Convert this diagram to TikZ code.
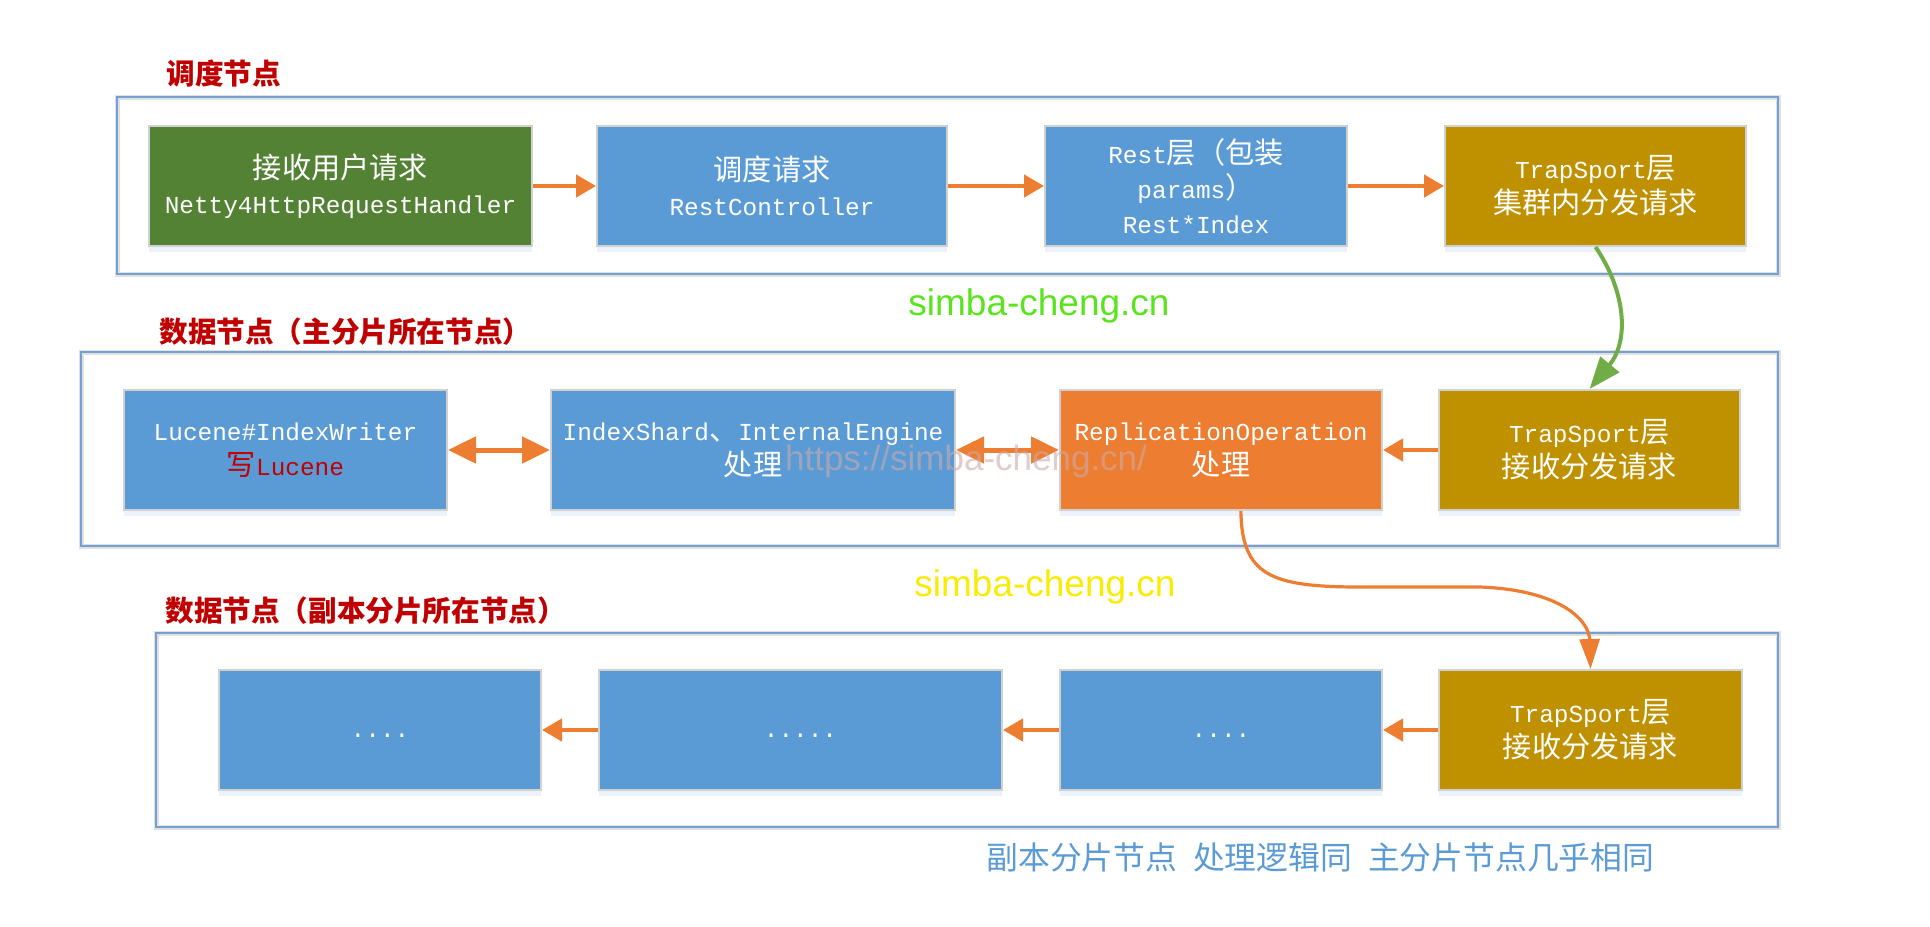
\documentclass[tikz,border=0pt]{standalone}
\usepackage{fontspec}
\setmainfont{Liberation Mono}
\newfontfamily\cjkfont{Noto Sans CJK SC}
\newfontfamily\webfont{Liberation Sans}
\usetikzlibrary{arrows.meta,shadows}

\definecolor{boxblue}{RGB}{91,155,213}
\definecolor{boxgreen}{RGB}{84,130,53}
\definecolor{boxgold}{RGB}{191,144,0}
\definecolor{boxorange}{RGB}{237,125,49}
\definecolor{titlered}{RGB}{192,0,0}
\definecolor{frameblue}{RGB}{116,160,212}
\definecolor{arrowgreen}{RGB}{112,173,71}
\definecolor{markgreen}{RGB}{90,228,30}
\definecolor{markyellow}{RGB}{250,236,0}
\definecolor{markgray}{RGB}{205,170,170}

\newcommand\zh[1]{{\cjkfont\fontsize{14.6pt}{17.5pt}\selectfont #1}}

\begin{document}
\begin{tikzpicture}[x=0.5pt, y=-0.5pt,
    frame/.style={draw=black!12, line width=2.5pt, postaction={draw=frameblue, line width=1.1pt}},
    stage/.style={minimum height=60pt, inner sep=0pt, text=white, align=center,
        draw=black!18, line width=1pt,
        drop shadow={shadow xshift=0pt, shadow yshift=-3pt, opacity=0.12, fill=boxblue},
        font=\fontsize{12.2pt}{17.5pt}\selectfont},
    title/.style={anchor=west, inner sep=0pt, text=titlered,
        font=\cjkfont\bfseries\fontsize{14.3pt}{16pt}\selectfont},
    flow/.style={draw=boxorange, line width=2.2pt, -{Triangle[length=10pt,width=11pt]}},
    both/.style={draw=boxorange, line width=2.5pt,
        {Triangle[length=14pt,width=13pt]}-{Triangle[length=14pt,width=13pt]}},
    watermark/.style={font=\webfont\fontsize{18.5pt}{20pt}\selectfont}]

    \useasboundingbox (0,0) rectangle (1930,926);
    \fill[white] (0,0) rectangle (1930,926);

    % Frames
    \draw[frame] (117,97) rectangle (1778,274);
    \draw[frame] (81,352) rectangle (1778,546);
    \draw[frame] (156,633) rectangle (1778,827);

    \node[title] (headsched) at (166,74) {调度节点};
    \node[title] (headprimary) at (159,332) {数据节点（主分片所在节点）};
    \node[title] (headreplica) at (165,611) {数据节点（副本分片所在节点）};

    % Scheduling node
    \node[stage, fill=boxgreen, minimum width=191.5pt] (recv) at (340.5,186)
        {\zh{接收用户请求}\\Netty4HttpRequestHandler};
    \node[stage, fill=boxblue, minimum width=175pt] (sched) at (772,186)
        {\zh{调度请求}\\RestController};
    \node[stage, fill=boxblue, minimum width=151pt] (rest) at (1196,186)
        {Rest\zh{层（包装}\\params\zh{）}\\Rest*Index};
    \node[stage, fill=boxgold, minimum width=150.5pt] (trans1) at (1595.5,186)
        {TrapSport\zh{层}\\\zh{集群内分发请求}};

    % Primary shard node
    \node[stage, fill=boxblue, minimum width=161.5pt] (lucene) at (285.5,450)
        {Lucene\#IndexWriter\\{\color{titlered}\zh{写}Lucene}};
    \node[stage, fill=boxblue, minimum width=202pt] (shard) at (753,450)
        {IndexShard\zh{、}InternalEngine\\\zh{处理}};
    \node[stage, fill=boxorange, minimum width=161pt] (repl) at (1221,450)
        {ReplicationOperation\\\zh{处理}};
    \node[stage, fill=boxgold, minimum width=150.5pt] (trans2) at (1589.5,450)
        {TrapSport\zh{层}\\\zh{接收分发请求}};

    % Replica shard node
    \node[stage, fill=boxblue, minimum width=161pt] (repa) at (380,730) {\strut....};
    \node[stage, fill=boxblue, minimum width=201.5pt] (repb) at (800.5,730) {\strut.....};
    \node[stage, fill=boxblue, minimum width=161pt] (repc) at (1221,730) {\strut....};
    \node[stage, fill=boxgold, minimum width=151.5pt] (trans3) at (1590.5,730)
        {TrapSport\zh{层}\\\zh{接收分发请求}};

    % Arrows
    \draw[flow] (recv) -- (sched);
    \draw[flow] (sched) -- (rest);
    \draw[flow] (rest) -- (trans1);
    \draw[both] (lucene) -- (shard);
    \draw[both] (shard) -- (repl);
    \draw[flow] (trans2) -- (repl);
    \draw[flow] (trans3) -- (repc);
    \draw[flow] (repc) -- (repb);
    \draw[flow] (repb) -- (repa);

    \draw[draw=arrowgreen, line width=2pt, -{Triangle[length=16pt,width=12pt]}]
        (trans1.south) .. controls (1625,290) and (1630,340) .. (trans2.north);
    \draw[draw=boxorange, line width=1.6pt, -{Triangle[length=15pt,width=10pt]}]
        (repl.-72) .. controls (1242,575) and (1270,587) .. (1360,587) -- (1480,587)
        .. controls (1560,590) and (1589,620) .. (trans3.north);

    % Watermarks
    \node[watermark, text=markgreen] (markone) at (1039,306) {simba-cheng.cn};
    \node[watermark, text=markyellow] (marktwo) at (1045,587) {simba-cheng.cn};
    \node[watermark, font=\webfont\fontsize{17.5pt}{20pt}\selectfont, text=markgray, opacity=0.6]
        (markurl) at (966,461) {https://simba-cheng.cn/};

    \node[anchor=west, inner sep=0pt, text=boxblue, font=\cjkfont\fontsize{15.9pt}{18pt}\selectfont]
        (note) at (986,857) {副本分片节点\hspace{0.5em}处理逻辑同\hspace{0.5em}主分片节点几乎相同};
\end{tikzpicture}
\end{document}
